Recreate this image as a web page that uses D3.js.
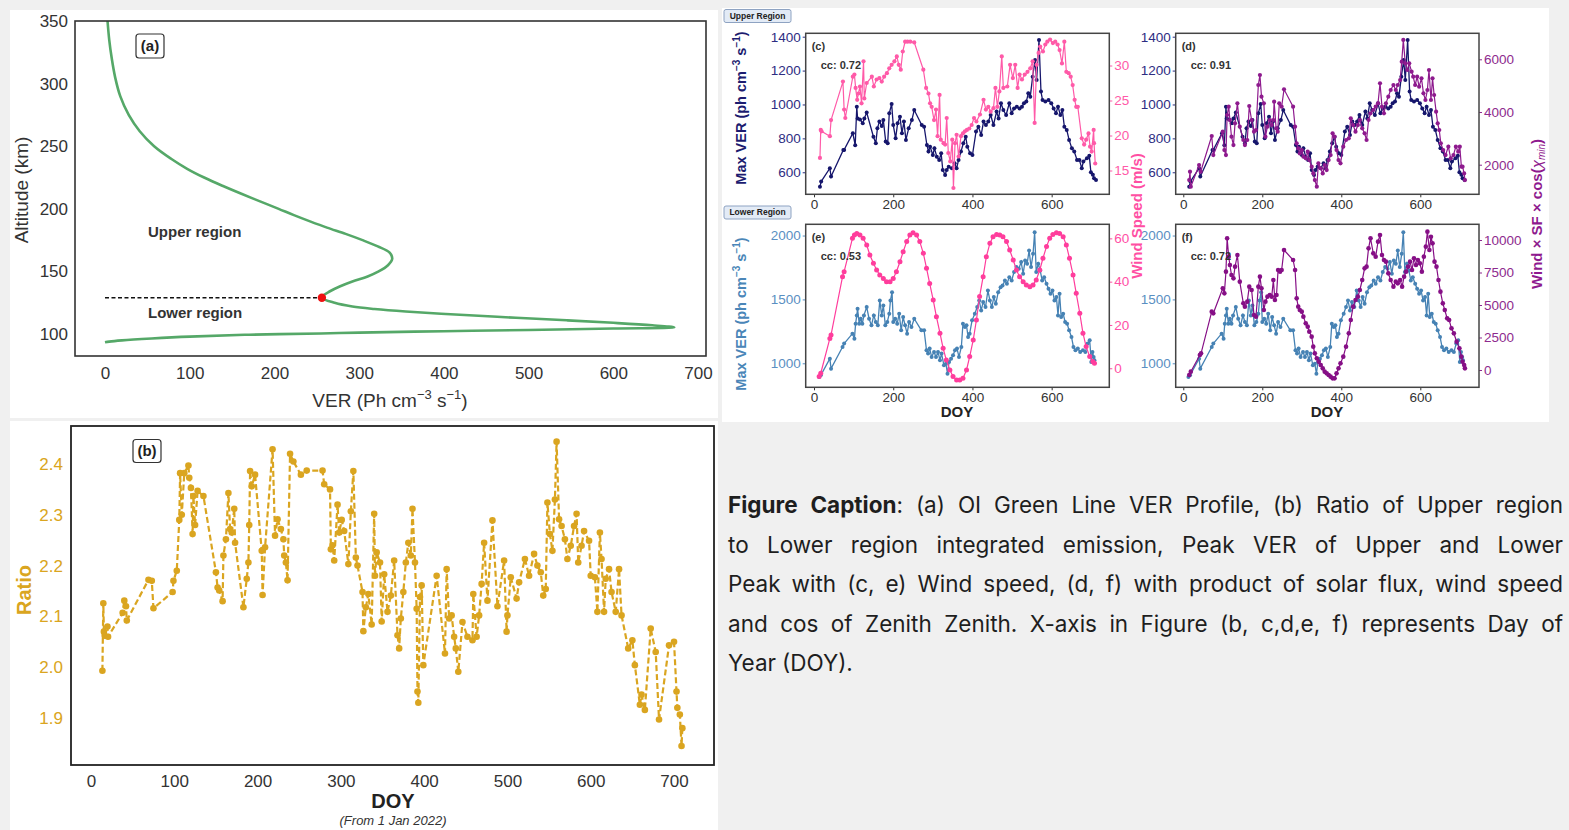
<!DOCTYPE html>
<html>
<head>
<meta charset="utf-8">
<script src="https://cdn.jsdelivr.net/npm/d3@7"></script>
<style>
  html, body { margin: 0; padding: 0; background: #f0f0f0; }
  svg { display: block; }
</style>
</head>
<body>
<svg id="fig" width="1569" height="830"></svg>
<script>
// ---------------- data ----------------
// (a) OI green line VER profile
const profileAlt = [93.4, 94, 95, 96.5, 98, 99.5, 100.5, 101.2, 102.3, 103.3, 104.5, 105.3, 107, 109, 111, 113, 115, 118, 120, 122, 125, 129, 131, 134, 138, 142, 146, 150, 155, 160, 165, 170, 175, 180, 185, 190, 195, 200, 206, 212, 218, 225, 232, 240, 250, 262, 275, 290, 305, 320, 335, 350];
const profileVER = [0, 5, 20, 55, 100, 170, 255, 300, 400, 500, 600, 672, 646, 600, 545, 485, 430, 355, 318, 292, 271, 256, 258, 265, 277, 292, 310, 323, 334, 339, 336, 322, 304, 284, 262, 242, 223, 205, 183, 161, 140, 117, 97, 78, 58, 41, 28, 18, 12, 8, 5, 3];
const boundaryAlt = 129;
const boundaryVER = 256;
const altTicks = [100, 150, 200, 250, 300, 350];
const verTicks = [0, 100, 200, 300, 400, 500, 600, 700];

// (b) ratio of upper to lower region integrated emission
const ratioDoy = [13.7, 14.8, 15.5, 16.5, 19.8, 20.5, 38, 40, 42, 43, 69, 73, 75, 98, 99, 103, 106, 107, 109, 112, 117, 118, 120, 122, 123, 125, 128, 135, 150, 152, 154, 158, 159, 162, 165, 167, 169, 172, 173, 183, 187, 189, 190, 191, 193, 197, 205, 206, 209, 218, 221, 224, 228, 231, 232, 234, 236, 239, 243, 252, 259, 278, 280, 287, 288, 290, 292, 296, 298, 301, 304, 309, 312, 315, 318, 320, 326, 327, 330, 333, 337, 340, 341, 343, 347, 349, 352, 356, 360, 364, 368, 370, 372, 375, 378, 381, 384, 386, 389, 391, 392, 393, 395, 397, 399, 415, 425, 427, 430, 433, 436, 438, 441, 446, 452, 458, 459, 463, 466, 469, 472, 476, 482, 488, 496, 499, 500, 504, 511, 514, 521, 526, 532, 536, 540, 543, 546, 548, 551, 554, 557, 559, 562, 565, 569, 572, 576, 580, 583, 585, 589, 592, 598, 600, 605, 608, 611, 613, 616, 618, 622, 625, 630, 634, 637, 645, 650, 653, 659, 661, 665, 672, 678, 682, 694, 700, 703, 704, 707, 709, 710];
const ratioVal = [1.993, 2.126, 2.07, 2.062, 2.08, 2.06, 2.107, 2.131, 2.12, 2.092, 2.172, 2.17, 2.116, 2.148, 2.17, 2.19, 2.29, 2.382, 2.30, 2.382, 2.397, 2.373, 2.353, 2.262, 2.337, 2.28, 2.347, 2.337, 2.187, 2.157, 2.151, 2.13, 2.22, 2.252, 2.343, 2.272, 2.265, 2.312, 2.245, 2.118, 2.174, 2.206, 2.28, 2.386, 2.356, 2.379, 2.229, 2.142, 2.236, 2.429, 2.259, 2.291, 2.272, 2.252, 2.22, 2.206, 2.171, 2.42, 2.405, 2.379, 2.387, 2.387, 2.36, 2.35, 2.232, 2.24, 2.21, 2.32, 2.265, 2.29, 2.268, 2.203, 2.307, 2.386, 2.216, 2.2, 2.148, 2.071, 2.118, 2.144, 2.084, 2.302, 2.18, 2.226, 2.206, 2.09, 2.183, 2.109, 2.141, 2.21, 2.063, 2.037, 2.096, 2.148, 2.206, 2.245, 2.22, 2.312, 2.206, 2.115, 1.952, 1.93, 2.138, 2.161, 2.004, 2.18, 2.027, 2.193, 2.096, 2.102, 2.06, 2.037, 1.991, 2.089, 2.06, 2.053, 2.144, 2.06, 2.102, 2.164, 2.245, 2.131, 2.289, 2.12, 2.21, 2.07, 2.102, 2.177, 2.135, 2.167, 2.213, 2.18, 2.223, 2.2, 2.187, 2.141, 2.154, 2.324, 2.262, 2.229, 2.33, 2.444, 2.291, 2.278, 2.252, 2.213, 2.239, 2.278, 2.302, 2.206, 2.239, 2.268, 2.249, 2.18, 2.177, 2.109, 2.265, 2.213, 2.109, 2.174, 2.193, 2.148, 2.109, 2.193, 2.102, 2.037, 2.053, 2.004, 1.926, 1.946, 1.916, 2.076, 2.03, 1.897, 2.043, 2.05, 1.952, 1.92, 1.907, 1.845, 1.88];
const ratioTicks = [1.9, 2.0, 2.1, 2.2, 2.3, 2.4];
const doyTicks = [0, 100, 200, 300, 400, 500, 600, 700];

// (c, d) upper-region peak VER
const upperDoy = [15, 18, 40, 43, 74, 76, 98, 104, 108, 110, 116, 123, 127, 133, 150, 156, 160, 165, 171, 175, 181, 186, 190, 196, 200, 206, 211, 217, 222, 227, 232, 239, 247, 253, 272, 278, 285, 289, 293, 300, 304, 310, 316, 321, 325, 331, 335, 340, 348, 355, 360, 365, 371, 377, 383, 387, 394, 400, 409, 415, 422, 428, 434, 440, 446, 453, 461, 466, 472, 478, 485, 493, 499, 505, 512, 519, 525, 530, 536, 541, 546, 552, 558, 562, 568, 573, 577, 584, 592, 599, 605, 611, 616, 622, 627, 632, 638, 644, 651, 657, 664, 670, 676, 680, 689, 695, 699, 704, 707, 712];
const upperVer = [515, 545, 624, 575, 732, 732, 830, 760, 987, 918, 912, 889, 918, 952, 810, 771, 859, 899, 873, 908, 781, 771, 948, 1003, 879, 800, 889, 928, 830, 899, 791, 859, 908, 967, 879, 869, 761, 722, 751, 702, 741, 692, 673, 712, 614, 584, 614, 633, 623, 653, 623, 673, 722, 771, 810, 751, 712, 702, 840, 869, 820, 899, 879, 899, 938, 879, 958, 918, 1007, 967, 938, 1007, 948, 977, 987, 977, 987, 1007, 1017, 1066, 1046, 1164, 1262, 1144, 1380, 1076, 1026, 1017, 1026, 1007, 977, 948, 987, 938, 967, 869, 850, 791, 741, 722, 673, 673, 623, 663, 683, 698, 600, 585, 565, 555];
// (c) upper-region wind speed (m/s)
const upperWindDoy = [15, 17, 19, 40, 43, 73, 76, 79, 98, 102, 105, 109, 112, 116, 120, 125, 127, 133, 146, 151, 158, 165, 171, 177, 184, 190, 196, 203, 209, 214, 219, 224, 230, 236, 243, 253, 276, 283, 289, 293, 297, 303, 308, 312, 317, 320, 327, 331, 335, 339, 344, 349, 352, 356, 360, 365, 371, 376, 381, 386, 392, 398, 404, 410, 419, 428, 434, 440, 446, 453, 458, 463, 468, 474, 478, 488, 495, 502, 508, 514, 519, 525, 532, 539, 546, 552, 557, 562, 567, 571, 578, 584, 589, 596, 603, 609, 615, 620, 626, 632, 637, 643, 648, 653, 658, 662, 666, 676, 682, 687, 693, 697, 701, 706, 707, 710];
const upperWind = [16.8, 20.8, 20.6, 19.9, 22.2, 27.7, 23.7, 22.5, 28.4, 28.7, 26.8, 25.1, 26.0, 27.0, 24.6, 30.6, 25.3, 27.5, 28.4, 27.0, 28.0, 28.2, 27.7, 28.4, 28.9, 29.6, 30.1, 30.6, 31.3, 30.1, 29.4, 32.0, 33.4, 33.4, 33.4, 33.3, 29.4, 26.8, 26.0, 24.6, 24.1, 22.2, 23.7, 19.9, 25.8, 19.4, 18.9, 18.7, 22.5, 17.5, 16.3, 19.4, 12.5, 18.9, 20.1, 17.0, 19.9, 20.3, 20.6, 20.8, 21.0, 21.5, 22.5, 22.0, 23.0, 25.1, 23.7, 24.1, 23.4, 23.9, 26.8, 24.1, 26.3, 31.3, 26.8, 27.0, 30.1, 28.2, 30.1, 26.8, 28.7, 28.0, 28.7, 29.1, 29.6, 30.6, 21.8, 30.1, 31.8, 32.7, 32.0, 33.0, 33.4, 33.7, 33.2, 33.4, 33.0, 32.2, 30.3, 33.4, 29.1, 28.9, 28.4, 27.2, 25.1, 24.1, 24.1, 19.6, 18.7, 19.4, 20.3, 18.4, 17.7, 20.8, 18.9, 16.0];
// (d) upper-region wind x solar flux x cos(zenith)
const upperProdDoy = [15, 17, 19, 40, 44, 72, 76, 100, 104, 108, 111, 115, 118, 122, 127, 131, 137, 143, 152, 156, 162, 167, 173, 179, 184, 190, 194, 198, 204, 208, 213, 219, 224, 228, 230, 235, 239, 243, 249, 255, 278, 283, 287, 291, 295, 300, 304, 310, 315, 319, 325, 329, 333, 338, 342, 348, 353, 358, 363, 368, 373, 378, 383, 388, 393, 398, 405, 412, 419, 424, 430, 436, 442, 447, 453, 459, 464, 469, 474, 481, 487, 493, 498, 503, 508, 513, 519, 525, 532, 538, 543, 549, 553, 557, 562, 567, 572, 578, 582, 587, 592, 597, 603, 608, 613, 618, 622, 627, 631, 635, 640, 644, 648, 652, 658, 664, 671, 677, 684, 690, 696, 700, 704, 707, 711, 713];
const upperProd = [1418, 1734, 1165, 1987, 1734, 3089, 2367, 3253, 2557, 2367, 3886, 4203, 3696, 3063, 2747, 3570, 4329, 3443, 2937, 2747, 2937, 4228, 3696, 3253, 3316, 5025, 5405, 4582, 4329, 3063, 3443, 3696, 3506, 3696, 4392, 3380, 3253, 4329, 4203, 4861, 4203, 3443, 2810, 2620, 2430, 2557, 2304, 2241, 2494, 2177, 1924, 1671, 1418, 1165, 2051, 1861, 1671, 1987, 1797, 2177, 2367, 3190, 3063, 2557, 2177, 2051, 2684, 2937, 3000, 3760, 3506, 3253, 3506, 3696, 3380, 3190, 2937, 3696, 3949, 4076, 4203, 4329, 5089, 4203, 3949, 4329, 4582, 4835, 5025, 4835, 5025, 5215, 5911, 6734, 5848, 5595, 5848, 5532, 5342, 5025, 5342, 4962, 5279, 4709, 4456, 4835, 5595, 4456, 5279, 4646, 4013, 3570, 3316, 2810, 2557, 2367, 2684, 2241, 2367, 2684, 2494, 2684, 1924, 1924, 1671, 1418];

// (e, f) lower-region peak VER
const lowerDoy = [13, 17, 40, 43, 72, 76, 97, 102, 105, 108, 110, 114, 118, 122, 126, 133, 139, 145, 151, 156, 161, 166, 171, 175, 180, 185, 190, 193, 197, 200, 205, 210, 215, 220, 225, 230, 235, 240, 246, 253, 271, 278, 284, 288, 292, 297, 303, 308, 313, 318, 322, 328, 333, 337, 341, 346, 351, 356, 361, 366, 372, 376, 381, 385, 389, 393, 399, 406, 412, 417, 422, 427, 433, 439, 444, 449, 454, 459, 465, 471, 476, 482, 487, 493, 499, 505, 511, 517, 523, 528, 533, 538, 543, 548, 553, 557, 561, 566, 571, 576, 581, 587, 592, 597, 602, 607, 612, 616, 620, 624, 629, 634, 639, 644, 650, 655, 660, 666, 672, 679, 685, 691, 696, 700, 703, 706, 708];
const lowerVer = [893, 906, 1036, 958, 1128, 1154, 1232, 1193, 1310, 1375, 1427, 1310, 1349, 1310, 1375, 1440, 1349, 1297, 1375, 1323, 1297, 1492, 1375, 1453, 1297, 1323, 1388, 1492, 1557, 1323, 1349, 1310, 1388, 1258, 1362, 1297, 1232, 1323, 1284, 1349, 1258, 1258, 1102, 1076, 1115, 1050, 1089, 1050, 1089, 1024, 1076, 984, 997, 919, 1010, 1036, 1063, 1102, 1115, 1050, 1128, 1310, 1284, 1297, 1206, 1232, 1336, 1388, 1440, 1492, 1414, 1479, 1440, 1570, 1492, 1440, 1518, 1466, 1557, 1596, 1609, 1648, 1622, 1674, 1648, 1714, 1753, 1740, 1792, 1701, 1805, 1779, 1883, 1753, 1857, 2026, 1714, 1779, 1727, 1648, 1674, 1622, 1583, 1544, 1570, 1492, 1518, 1375, 1544, 1362, 1388, 1323, 1310, 1258, 1206, 1128, 1102, 1115, 1089, 1102, 1089, 1154, 1180, 1010, 1089, 1050, 1024];
// (e) lower-region wind speed (m/s)
const lowerWindDoy = [13, 17, 40, 43, 72, 76, 97, 102, 108, 116, 124, 133, 141, 150, 158, 166, 175, 183, 192, 200, 208, 217, 225, 234, 242, 250, 259, 267, 276, 284, 292, 301, 309, 318, 326, 334, 343, 351, 360, 368, 376, 385, 393, 402, 410, 418, 427, 435, 444, 452, 461, 469, 477, 486, 494, 503, 511, 519, 528, 536, 545, 553, 561, 570, 578, 587, 595, 603, 612, 620, 629, 637, 645, 654, 662, 671, 679, 687, 696, 704, 708];
const lowerWind = [-3.8, -2.3, 13.8, 15.4, 42.3, 44.6, 60.0, 61.5, 62.3, 61.5, 60.0, 56.9, 52.3, 48.5, 45.4, 43.1, 41.5, 40.0, 40.0, 41.5, 44.6, 49.2, 53.8, 58.5, 61.5, 62.6, 61.5, 58.5, 53.1, 46.2, 39.2, 31.5, 23.8, 16.2, 9.2, 3.8, -0.8, -3.8, -5.4, -5.4, -4.6, -0.8, 5.4, 13.1, 22.3, 33.1, 42.3, 51.5, 57.7, 60.8, 61.8, 61.5, 60.8, 58.5, 54.6, 50.0, 45.4, 42.3, 40.0, 38.5, 37.7, 38.5, 40.8, 45.4, 50.8, 56.2, 60.0, 61.8, 62.6, 62.3, 60.8, 56.9, 50.8, 43.1, 34.6, 25.4, 16.2, 10.0, 5.4, 3.1, 2.3];
// (f) lower-region wind x solar flux x cos(zenith)
const lowerProdDoy = [15, 19, 42, 45, 72, 76, 100, 104, 108, 111, 115, 118, 122, 127, 131, 137, 143, 152, 156, 162, 167, 173, 179, 184, 190, 194, 198, 204, 208, 213, 219, 224, 228, 232, 236, 240, 245, 249, 255, 278, 283, 287, 291, 295, 300, 304, 310, 315, 319, 325, 329, 333, 338, 343, 348, 353, 358, 363, 368, 373, 378, 383, 388, 393, 398, 405, 412, 419, 424, 430, 436, 442, 447, 453, 459, 464, 469, 474, 481, 487, 493, 498, 503, 508, 513, 519, 525, 532, 538, 543, 549, 554, 559, 564, 569, 574, 579, 584, 589, 594, 599, 604, 609, 614, 618, 623, 627, 631, 636, 641, 646, 651, 657, 662, 668, 673, 679, 685, 692, 699, 704, 707, 711, 713];
const lowerProd = [-385, -128, 1154, 1282, 4487, 4359, 6282, 5898, 7564, 10128, 8718, 8077, 7308, 7051, 7949, 8846, 6795, 5128, 4872, 5256, 6410, 6154, 4231, 4103, 6410, 7180, 6282, 4615, 5256, 5641, 5769, 5641, 6923, 5385, 5769, 7692, 7564, 7692, 9231, 8462, 7692, 5513, 4872, 4615, 4487, 4103, 3590, 3333, 2949, 2564, 1795, 1282, 897, 641, 385, 128, -128, -256, -385, -513, -641, -641, -256, 128, 513, 1026, 1795, 2821, 3846, 4872, 5385, 5641, 6154, 6923, 7821, 7949, 9359, 10128, 8974, 8718, 9872, 10385, 8846, 8462, 8333, 7436, 6923, 6410, 6795, 6667, 6923, 6410, 7180, 7564, 7949, 8333, 7692, 8590, 8077, 8462, 8205, 7564, 8718, 9487, 10641, 9231, 10256, 9744, 8333, 7949, 6923, 6026, 5128, 4615, 3974, 3846, 3205, 2821, 2179, 1667, 1026, 641, 385, 128];

const smallDoyTicks = [0, 200, 400, 600];
const upperVerTicks = [600, 800, 1000, 1200, 1400];
const upperWindTicks = [15, 20, 25, 30];
const upperProdTicks = [2000, 4000, 6000];
const lowerVerTicks = [1000, 1500, 2000];
const lowerWindTicks = [0, 20, 40, 60];
const lowerProdTicks = [0, 2500, 5000, 7500, 10000];

const captionLines = [
  [[{t: "Figure", b: true}], [{t: "Caption", b: true}, {t: ":", b: false}], "(a)", "OI", "Green", "Line", "VER", "Profile,", "(b)", "Ratio", "of", "Upper", "region"],
  ["to", "Lower", "region", "integrated", "emission,", "Peak", "VER", "of", "Upper", "and", "Lower"],
  ["Peak", "with", "(c,", "e)", "Wind", "speed,", "(d,", "f)", "with", "product", "of", "solar", "flux,", "wind", "speed"],
  ["and", "cos", "of", "Zenith", "Zenith.", "X-axis", "in", "Figure", "(b,", "c,d,e,", "f)", "represents", "Day", "of"],
  ["Year", "(DOY)."]
];

// ---------------- drawing ----------------
const SANS = "'Liberation Sans', Arial, sans-serif";
const intFmt = d3.format("d");
const svg = d3.select("#fig");

svg.append("rect").attr("width", 1569).attr("height", 830).attr("fill", "#f0f0f0");
svg.append("rect").attr("x", 10).attr("y", 10).attr("width", 708).attr("height", 408).attr("fill", "#fff");
svg.append("rect").attr("x", 10).attr("y", 421).attr("width", 708).attr("height", 409).attr("fill", "#fff");
svg.append("rect").attr("x", 722).attr("y", 8).attr("width", 827).attr("height", 414).attr("fill", "#fff");

function styleAxis(g, color, size, weight) {
  g.select(".domain").remove();
  g.selectAll(".tick text")
    .attr("fill", color)
    .style("font-family", SANS)
    .style("font-size", size + "px")
    .style("font-weight", weight || "normal");
  g.selectAll(".tick line").attr("stroke", color);
}

function frame(l, t, r, b, color, w) {
  svg.append("rect").attr("x", l).attr("y", t).attr("width", r - l).attr("height", b - t)
    .attr("fill", "none").attr("stroke", color).attr("stroke-width", w);
}

function tagBox(cx, cy, label, w, h, size) {
  svg.append("rect").attr("x", cx - w / 2).attr("y", cy - h / 2).attr("width", w).attr("height", h)
    .attr("rx", 3).attr("fill", "#fff").attr("stroke", "#333").attr("stroke-width", 1.2);
  svg.append("text").attr("x", cx).attr("y", cy).attr("dy", "0.36em").attr("text-anchor", "middle")
    .style("font-family", SANS).style("font-size", size + "px").style("font-weight", "bold")
    .attr("fill", "#222").text(label);
}

// ----- panel (a): VER profile -----
(function () {
  const L = 75, R = 706, T = 21, B = 356;
  const x = d3.scaleLinear().domain([-35.4, 709.4]).range([L, R]);
  const y = d3.scaleLinear().domain([82.5, 350]).range([B, T]);

  const gx = svg.append("g").attr("transform", `translate(0,${B})`)
    .call(d3.axisBottom(x).tickValues(verTicks).tickSize(0).tickPadding(11).tickFormat(intFmt));
  styleAxis(gx, "#333", 17);
  const gy = svg.append("g").attr("transform", `translate(${L},0)`)
    .call(d3.axisLeft(y).tickValues(altTicks).tickSize(0).tickPadding(7).tickFormat(intFmt));
  styleAxis(gy, "#333", 17);

  const pts = profileAlt.map((a, i) => ({ a, v: profileVER[i] }));
  svg.append("path").datum(pts)
    .attr("fill", "none").attr("stroke", "#55a868").attr("stroke-width", 2.6)
    .attr("d", d3.line().x(d => x(d.v)).y(d => y(d.a)).curve(d3.curveCatmullRom));

  svg.append("line").attr("x1", x(0)).attr("x2", x(boundaryVER))
    .attr("y1", y(boundaryAlt)).attr("y2", y(boundaryAlt))
    .attr("stroke", "#111").attr("stroke-width", 1.5).attr("stroke-dasharray", "4,2.5");
  svg.append("circle").attr("cx", x(boundaryVER)).attr("cy", y(boundaryAlt)).attr("r", 4.2).attr("fill", "#ee1111");

  frame(L, T, R, B, "#333", 1.6);

  svg.append("text").attr("x", 148).attr("y", 237)
    .style("font-family", SANS).style("font-size", "15px").style("font-weight", "bold")
    .attr("fill", "#333").text("Upper region");
  svg.append("text").attr("x", 148).attr("y", 318)
    .style("font-family", SANS).style("font-size", "15px").style("font-weight", "bold")
    .attr("fill", "#333").text("Lower region");

  tagBox(150, 46, "(a)", 28, 24, 15);

  svg.append("text").attr("transform", "translate(28,190) rotate(-90)")
    .attr("text-anchor", "middle")
    .style("font-family", SANS).style("font-size", "19px").attr("fill", "#333")
    .text("Altitude (km)");

  const xl = svg.append("text").attr("x", 390).attr("y", 407).attr("text-anchor", "middle")
    .style("font-family", SANS).style("font-size", "19px").attr("fill", "#333");
  xl.append("tspan").text("VER (Ph cm");
  xl.append("tspan").attr("dy", -8).style("font-size", "13px").text("\u22123");
  xl.append("tspan").attr("dy", 8).text(" s");
  xl.append("tspan").attr("dy", -8).style("font-size", "13px").text("\u22121");
  xl.append("tspan").attr("dy", 8).text(")");
})();

// ----- panel (b): ratio time series -----
(function () {
  const L = 71, R = 714, T = 426, B = 765;
  const x = d3.scaleLinear().domain([-24, 748]).range([L, R]);
  const y = d3.scaleLinear().domain([1.8075, 2.4748]).range([B, T]);
  const gold = "#daa520";

  const gx = svg.append("g").attr("transform", `translate(0,${B})`)
    .call(d3.axisBottom(x).tickValues(doyTicks).tickSize(0).tickPadding(10).tickFormat(intFmt));
  styleAxis(gx, "#333", 17);
  const gy = svg.append("g").attr("transform", `translate(${L},0)`)
    .call(d3.axisLeft(y).tickValues(ratioTicks).tickSize(0).tickPadding(8).tickFormat(d3.format(".1f")));
  styleAxis(gy, gold, 17);

  const pts = ratioDoy.map((d, i) => ({ d, v: ratioVal[i] }));
  svg.append("path").datum(pts)
    .attr("fill", "none").attr("stroke", gold).attr("stroke-width", 2.2).attr("stroke-dasharray", "6,3")
    .attr("d", d3.line().x(p => x(p.d)).y(p => y(p.v)));
  svg.append("g").selectAll("circle").data(pts).join("circle")
    .attr("cx", p => x(p.d)).attr("cy", p => y(p.v)).attr("r", 3.3).attr("fill", gold);

  frame(L, T, R, B, "#222", 1.8);
  tagBox(147, 451, "(b)", 28, 23, 15);

  svg.append("text").attr("transform", "translate(31,590) rotate(-90)")
    .attr("text-anchor", "middle")
    .style("font-family", SANS).style("font-size", "20px").style("font-weight", "bold")
    .attr("fill", gold).text("Ratio");
  svg.append("text").attr("x", 393).attr("y", 808).attr("text-anchor", "middle")
    .style("font-family", SANS).style("font-size", "20px").style("font-weight", "bold")
    .attr("fill", "#222").text("DOY");
  svg.append("text").attr("x", 393).attr("y", 825).attr("text-anchor", "middle")
    .style("font-family", SANS).style("font-size", "13px").style("font-style", "italic")
    .attr("fill", "#333").text("(From 1 Jan 2022)");
})();

// ----- panels (c)-(f): peak VER with dual y-axes -----
function dualPanel(c) {
  const x = d3.scaleLinear().domain(c.xDom).range([c.L, c.R]);
  const yl = d3.scaleLinear().domain(c.ylDom).range([c.B, c.T]);
  const yr = d3.scaleLinear().domain(c.yrDom).range([c.B, c.T]);

  const gx = svg.append("g").attr("transform", `translate(0,${c.B})`)
    .call(d3.axisBottom(x).tickValues(smallDoyTicks).tickSize(3).tickPadding(2).tickFormat(intFmt));
  styleAxis(gx, "#333", 13.5);
  const gl = svg.append("g").attr("transform", `translate(${c.L},0)`)
    .call(d3.axisLeft(yl).tickValues(c.ylTicks).tickSize(3).tickPadding(2).tickFormat(intFmt));
  styleAxis(gl, c.lTick, 13.5);
  const gr = svg.append("g").attr("transform", `translate(${c.R},0)`)
    .call(d3.axisRight(yr).tickValues(c.yrTicks).tickSize(3).tickPadding(2).tickFormat(intFmt));
  styleAxis(gr, c.rTick, 13.5);

  const clipId = "clip-" + c.id;
  svg.append("clipPath").attr("id", clipId).append("rect")
    .attr("x", c.L).attr("y", c.T).attr("width", c.R - c.L).attr("height", c.B - c.T);
  const g = svg.append("g").attr("clip-path", `url(#${clipId})`);

  function series(doys, vals, scale, color, r, w) {
    const pts = doys.map((d, i) => ({ d, v: vals[i] }));
    g.append("path").datum(pts)
      .attr("fill", "none").attr("stroke", color).attr("stroke-width", w)
      .attr("d", d3.line().x(p => x(p.d)).y(p => scale(p.v)));
    g.append("g").selectAll("circle").data(pts).join("circle")
      .attr("cx", p => x(p.d)).attr("cy", p => scale(p.v)).attr("r", r).attr("fill", color);
  }
  series(c.lDoy, c.lVal, yl, c.lColor, 2.0, 1.3);
  series(c.rDoy, c.rVal, yr, c.rColor, c.rR || 2.1, 1.2);

  frame(c.L, c.T, c.R, c.B, "#444", 1.5);

  svg.append("text").attr("x", c.L + 6).attr("y", c.T + 17)
    .style("font-family", SANS).style("font-size", "11px").style("font-weight", "bold")
    .attr("fill", "#333").text(`(${c.id})`);
  svg.append("text").attr("x", c.L + 15).attr("y", c.T + 36)
    .style("font-family", SANS).style("font-size", "11px").style("font-weight", "bold")
    .attr("fill", "#333").text(c.cc);
}

const upL = 805.7, upR = 1109.3, rtL = 1175.7, rtR = 1479;
dualPanel({ id: "c", L: upL, R: upR, T: 33.3, B: 194.3, xDom: [-21, 745.5],
  ylDom: [470, 1420], yrDom: [11.6, 34.6], ylTicks: upperVerTicks, yrTicks: upperWindTicks,
  lDoy: upperDoy, lVal: upperVer, rDoy: upperWindDoy, rVal: upperWind,
  lColor: "#16166c", lTick: "#2d2d82", rColor: "#ff5aa8", rTick: "#ff5aa8", cc: "cc: 0.72" });
dualPanel({ id: "d", L: rtL, R: rtR, T: 33.3, B: 194.3, xDom: [-19.2, 748.6],
  ylDom: [470, 1420], yrDom: [877, 6987], ylTicks: upperVerTicks, yrTicks: upperProdTicks,
  lDoy: upperDoy, lVal: upperVer, rDoy: upperProdDoy, rVal: upperProd,
  lColor: "#16166c", lTick: "#2d2d82", rColor: "#8e1a8e", rTick: "#8e2a8e", cc: "cc: 0.91" });
dualPanel({ id: "e", L: upL, R: upR, T: 224.3, B: 387.3, xDom: [-21, 745.5],
  ylDom: [812, 2088], yrDom: [-8.8, 66.5], ylTicks: lowerVerTicks, yrTicks: lowerWindTicks,
  lDoy: lowerDoy, lVal: lowerVer, rDoy: lowerWindDoy, rVal: lowerWind,
  lColor: "#4682b4", lTick: "#5a8fc2", rColor: "#ff3d9c", rTick: "#ff4fa5", rR: 2.5, cc: "cc: 0.53" });
dualPanel({ id: "f", L: rtL, R: rtR, T: 224.3, B: 387.3, xDom: [-19.2, 748.6],
  ylDom: [812, 2088], yrDom: [-1331, 11208], ylTicks: lowerVerTicks, yrTicks: lowerProdTicks,
  lDoy: lowerDoy, lVal: lowerVer, rDoy: lowerProdDoy, rVal: lowerProd,
  lColor: "#4682b4", lTick: "#5a8fc2", rColor: "#860f86", rTick: "#8e2a8e", rR: 2.3, cc: "cc: 0.72" });

// region tags
function regionTag(y, label) {
  svg.append("rect").attr("x", 724).attr("y", y).attr("width", 67).attr("height", 13).attr("rx", 2)
    .attr("fill", "#e3ebf6").attr("stroke", "#8ea3c2").attr("stroke-width", 1);
  svg.append("text").attr("x", 757.5).attr("y", y + 6.5).attr("dy", "0.35em").attr("text-anchor", "middle")
    .style("font-family", SANS).style("font-size", "8.5px").style("font-weight", "bold")
    .attr("fill", "#222").text(label);
}
regionTag(9.5, "Upper Region");
regionTag(206, "Lower Region");

// rotated axis titles for the small panels
function verTitle(cy, color) {
  const t = svg.append("text").attr("transform", `translate(746,${cy}) rotate(-90)`)
    .attr("text-anchor", "middle")
    .style("font-family", SANS).style("font-size", "14.5px").style("font-weight", "bold")
    .attr("fill", color);
  t.append("tspan").text("Max VER (ph cm");
  t.append("tspan").attr("dy", -6).style("font-size", "10px").text("\u22123");
  t.append("tspan").attr("dy", 6).text(" s");
  t.append("tspan").attr("dy", -6).style("font-size", "10px").text("\u22121");
  t.append("tspan").attr("dy", 6).text(")");
}
verTitle(108, "#1c1c70");
verTitle(314, "#4a86b8");

svg.append("text").attr("transform", "translate(1142,216) rotate(-90)")
  .attr("text-anchor", "middle")
  .style("font-family", SANS).style("font-size", "15px").style("font-weight", "bold")
  .attr("fill", "#ff4fa3").text("Wind Speed (m/s)");

(function () {
  const t = svg.append("text").attr("transform", "translate(1542,214) rotate(-90)")
    .attr("text-anchor", "middle")
    .style("font-family", SANS).style("font-size", "15px").style("font-weight", "bold")
    .attr("fill", "#8e1a8e");
  t.append("tspan").text("Wind \u00d7 SF \u00d7 cos(");
  t.append("tspan").style("font-style", "italic").style("font-weight", "normal").text("\u03c7");
  t.append("tspan").attr("dy", 3).style("font-size", "10px").style("font-style", "italic").style("font-weight", "normal").text("min");
  t.append("tspan").attr("dy", -3).text(")");
})();

svg.append("text").attr("x", 957).attr("y", 417).attr("text-anchor", "middle")
  .style("font-family", SANS).style("font-size", "15px").style("font-weight", "bold")
  .attr("fill", "#222").text("DOY");
svg.append("text").attr("x", 1327).attr("y", 417).attr("text-anchor", "middle")
  .style("font-family", SANS).style("font-size", "15px").style("font-weight", "bold")
  .attr("fill", "#222").text("DOY");

// ----- caption: justified text block -----
(function () {
  const left = 728, right = 1563, base0 = 513, lead = 39.5;
  const CAP = "Inter, Roboto, 'Noto Sans', sans-serif";
  captionLines.forEach((words, li) => {
    const y = base0 + li * lead;
    const nodes = words.map(w => {
      const segs = typeof w === "string" ? [{ t: w, b: false }] : w;
      const t = svg.append("text").attr("y", y)
        .style("font-family", CAP).style("font-size", "22.5px")
        .attr("fill", "#1e1e1e");
      segs.forEach(s => t.append("tspan").style("font-weight", s.b ? "bold" : "normal").text(s.t));
      return t;
    });
    const widths = nodes.map(n => n.node().getComputedTextLength());
    const total = d3.sum(widths);
    const last = li === captionLines.length - 1;
    const space = 6;
    const gap = last ? space : Math.max(3, (right - left - total) / (nodes.length - 1));
    let cx = left;
    nodes.forEach((n, i) => { n.attr("x", cx); cx += widths[i] + gap; });
  });
})();
</script>
</body>
</html>
